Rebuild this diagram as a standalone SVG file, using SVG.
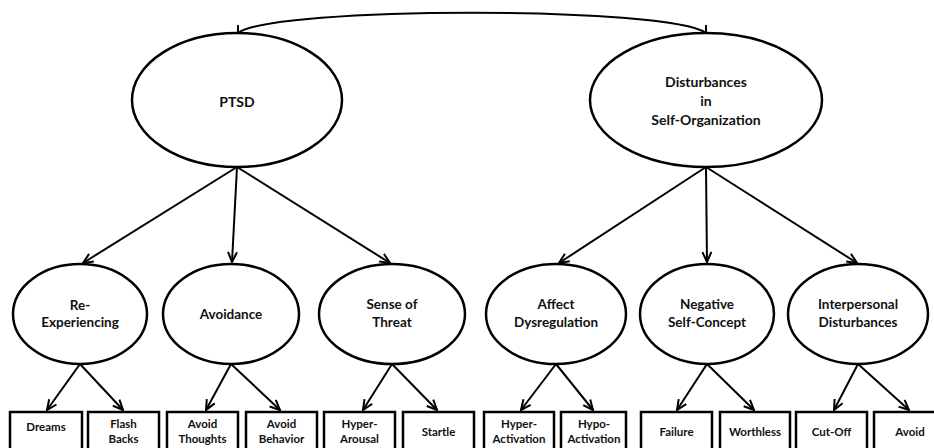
<svg xmlns="http://www.w3.org/2000/svg" width="934" height="448" viewBox="0 0 934 448">
<style>
.e{fill:#fff;stroke:#000;stroke-width:2.5}
.b{fill:#fff;stroke:#000;stroke-width:2.5}
.c{fill:none;stroke:#000;stroke-width:2}
text{font-family:Lato,"Open Sans","Liberation Sans",sans-serif;font-weight:bold;fill:#111;text-anchor:middle}
.t1{font-size:14px}
.t2{font-size:13.5px}
.t3{font-size:11.5px}
</style>
<defs>
<marker id="ah" viewBox="0 0 12 12" refX="11" refY="6" markerWidth="12" markerHeight="12" markerUnits="userSpaceOnUse" orient="auto">
<path d="M1,1.5 L11,6 L1,10.5" fill="none" stroke="#000" stroke-width="2"/>
</marker>
</defs>
<rect width="934" height="448" fill="#fff"/>
<g id="connectors">
<path class="c" d="M238,33 C275,6 669,6 706,33"/>
<path class="c" d="M238,25 L238,33 M706,25 L706,33"/>
<path class="c" d="M237,167 L83,263" marker-end="url(#ah)"/>
<path class="c" d="M237,167 L232,262" marker-end="url(#ah)"/>
<path class="c" d="M237,167 L390,263" marker-end="url(#ah)"/>
<path class="c" d="M706,167 L559,263" marker-end="url(#ah)"/>
<path class="c" d="M706,167 L707,262" marker-end="url(#ah)"/>
<path class="c" d="M706,167 L857,263" marker-end="url(#ah)"/>
<path class="c" d="M80,364 L47,410" marker-end="url(#ah)"/>
<path class="c" d="M80,364 L123,410" marker-end="url(#ah)"/>
<path class="c" d="M231,364 L206,410" marker-end="url(#ah)"/>
<path class="c" d="M231,364 L280,410" marker-end="url(#ah)"/>
<path class="c" d="M392,364 L363,410" marker-end="url(#ah)"/>
<path class="c" d="M392,364 L437,410" marker-end="url(#ah)"/>
<path class="c" d="M556,364 L521,410" marker-end="url(#ah)"/>
<path class="c" d="M556,364 L593,410" marker-end="url(#ah)"/>
<path class="c" d="M707,364 L677,410" marker-end="url(#ah)"/>
<path class="c" d="M707,364 L754,410" marker-end="url(#ah)"/>
<path class="c" d="M858,364 L834,410" marker-end="url(#ah)"/>
<path class="c" d="M858,364 L909,410" marker-end="url(#ah)"/>
</g>
<g id="ptsd"><ellipse class="e" cx="237" cy="100" rx="105" ry="67"/><text class="t1" x="237" y="107">PTSD</text></g>
<g id="dso"><ellipse class="e" cx="706" cy="100" rx="116" ry="67"/><text class="t1" x="706" y="87">Disturbances</text><text class="t1" x="706" y="106">in</text><text class="t1" x="706" y="125">Self-Organization</text></g>
<g id="reexp"><ellipse class="e" cx="80" cy="314" rx="67" ry="50"/><text class="t2" x="80" y="310">Re-</text><text class="t2" x="80" y="327">Experiencing</text></g>
<g id="avoidance"><ellipse class="e" cx="231" cy="314" rx="68" ry="50"/><text class="t2" x="231" y="319">Avoidance</text></g>
<g id="threat"><ellipse class="e" cx="392" cy="314" rx="73" ry="50"/><text class="t2" x="392" y="309">Sense of</text><text class="t2" x="392" y="327">Threat</text></g>
<g id="affect"><ellipse class="e" cx="556" cy="314" rx="70" ry="50"/><text class="t2" x="556" y="309">Affect</text><text class="t2" x="556" y="327">Dysregulation</text></g>
<g id="negative"><ellipse class="e" cx="707" cy="314" rx="67" ry="50"/><text class="t2" x="707" y="309">Negative</text><text class="t2" x="707" y="327">Self-Concept</text></g>
<g id="interpersonal"><ellipse class="e" cx="858" cy="314" rx="70" ry="50"/><text class="t2" x="858" y="309">Interpersonal</text><text class="t2" x="858" y="327">Disturbances</text></g>
<g id="dreams"><rect class="b" x="10" y="412" width="72" height="50"/><text class="t3" x="46" y="431">Dreams</text></g>
<g id="flashbacks"><rect class="b" x="88" y="412" width="71" height="50"/><text class="t3" x="123.5" y="428">Flash</text><text class="t3" x="123.5" y="443">Backs</text></g>
<g id="avoidthoughts"><rect class="b" x="167" y="412" width="71" height="50"/><text class="t3" x="202.5" y="428">Avoid</text><text class="t3" x="202.5" y="443">Thoughts</text></g>
<g id="avoidbehavior"><rect class="b" x="246" y="412" width="71" height="50"/><text class="t3" x="281.5" y="428">Avoid</text><text class="t3" x="281.5" y="443">Behavior</text></g>
<g id="hyperarousal"><rect class="b" x="324" y="412" width="71" height="50"/><text class="t3" x="359.5" y="428">Hyper-</text><text class="t3" x="359.5" y="443">Arousal</text></g>
<g id="startle"><rect class="b" x="403" y="412" width="71" height="50"/><text class="t3" x="438.5" y="436">Startle</text></g>
<g id="hyperactivation"><rect class="b" x="484" y="412" width="70" height="50"/><text class="t3" x="519" y="428">Hyper-</text><text class="t3" x="519" y="443">Activation</text></g>
<g id="hypoactivation"><rect class="b" x="561" y="412" width="65" height="50"/><text class="t3" x="594" y="428">Hypo-</text><text class="t3" x="594" y="443">Activation</text></g>
<g id="failure"><rect class="b" x="641" y="412" width="71" height="50"/><text class="t3" x="676.5" y="436">Failure</text></g>
<g id="worthless"><rect class="b" x="720" y="412" width="70" height="50"/><text class="t3" x="755" y="436">Worthless</text></g>
<g id="cutoff"><rect class="b" x="796" y="412" width="71" height="50"/><text class="t3" x="831.5" y="436">Cut-Off</text></g>
<g id="avoid"><rect class="b" x="874" y="412" width="72" height="50"/><text class="t3" x="910" y="436">Avoid</text></g>
</svg>
